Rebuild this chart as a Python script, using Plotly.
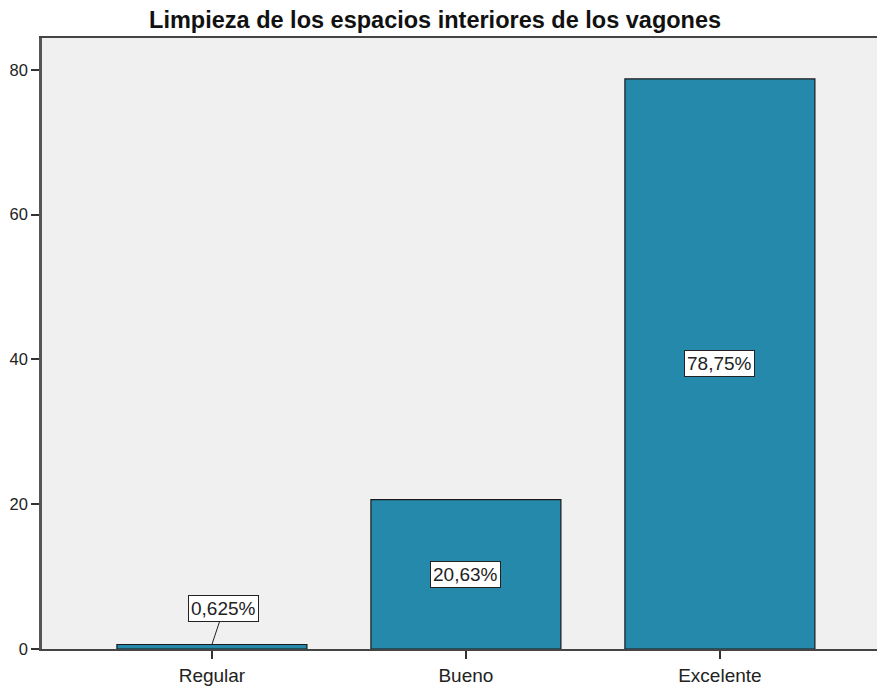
import plotly.graph_objects as go

categories = ["Regular", "Bueno", "Excelente"]
values = [0.625, 20.63, 78.75]
labels = ["0,625%", "20,63%", "78,75%"]
y_ticks = [0, 20, 40, 60, 80]

BAR = "#2489AB"
FONT = "Liberation Sans, Arial, sans-serif"

fig = go.Figure()
fig.add_trace(go.Bar(
    x=list(range(len(categories))), y=values, width=0.748,
    marker=dict(color=BAR, line=dict(color="#1a1a1a", width=1.2)),
    hoverinfo="skip",
))

annotations = []
for i, (v, t) in enumerate(zip(values, labels)):
    common = dict(xref="x", yref="y", text=t, bgcolor="white",
                  bordercolor="#222", borderwidth=1, borderpad=2,
                  font=dict(family=FONT, size=19, color="#222"))
    if v < 5:
        annotations.append(dict(
            x=i, y=v, showarrow=True, arrowhead=0, arrowwidth=1,
            arrowcolor="#222", ax=12, ay=-36, **common))
    else:
        annotations.append(dict(x=i, y=v / 2, showarrow=False, **common))

fig.update_layout(
    width=877, height=681,
    margin=dict(l=34, r=0, t=30, b=40),
    paper_bgcolor="white", plot_bgcolor="#F0F0F0",
    showlegend=False,
    title=dict(text="<b>Limpieza de los espacios interiores de los vagones</b>",
               x=0.487, xanchor="center", y=0.982, yanchor="middle",
               font=dict(family=FONT, size=23.5, color="#111")),
    annotations=annotations,
    xaxis=dict(range=[-0.669, 2.65], tickvals=list(range(len(categories))),
               ticktext=categories, showgrid=False, zeroline=False,
               showline=True, linecolor="#444", linewidth=2, mirror=True,
               ticks="outside", ticklen=8, tickcolor="#333", tickwidth=1.5,
               tickfont=dict(family=FONT, size=19, color="#222")),
    yaxis=dict(range=[0, 84.4], tickvals=y_ticks, showgrid=False, zeroline=False,
               showline=True, linecolor="#555", linewidth=2.5,
               ticks="outside", ticklen=8, tickcolor="#333", tickwidth=1.5,
               tickfont=dict(family=FONT, size=16.5, color="#222")),
)

fig.write_html("out.html")
